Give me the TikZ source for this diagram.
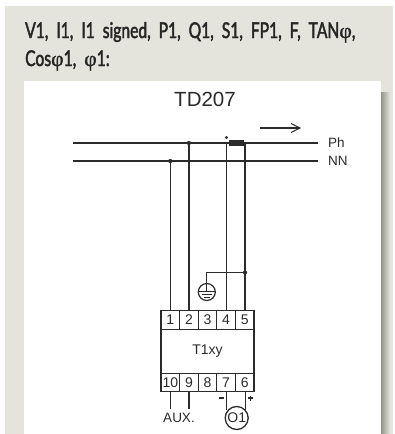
\documentclass[tikz,border=0pt]{standalone}
\usepackage{fontspec}
\setmainfont{Liberation Sans}
\newfontfamily\headfont[FakeStretch=0.72,FakeBold=2]{Lato}
\newfontfamily\greekfont[FakeBold=1.2]{Liberation Serif}
\usetikzlibrary{calc}
\definecolor{panelbg}{HTML}{E4E4DC}
\definecolor{ink}{HTML}{2B2B2B}
\tikzset{
  wire/.style={draw=ink,line width=1.3pt},
  bus/.style={draw=ink,line width=1.7pt},
  cell/.style={draw=ink,line width=1.2pt,minimum width=18.6pt,minimum height=18.6pt,inner sep=0pt,font=\fontsize{14}{15}\selectfont,text=ink},
  lbl/.style={inner sep=0pt,font=\fontsize{13.5}{15}\selectfont,text=ink},
  junction/.style={circle,fill=ink,inner sep=0pt,minimum size=4.2pt},
  head/.style={anchor=base west,inner sep=0pt,font=\headfont\fontsize{21.7}{24}\selectfont,text=black!85},
}
\begin{document}
\begin{tikzpicture}[x=1pt,y=-1pt]
\useasboundingbox (0,0) rectangle (394,434);
\fill[panelbg] (5,6) rectangle (393,434);
\shade[left color=black!35!panelbg,right color=panelbg] (381,92) rectangle (390,434);
\fill[white] (24,81) rectangle (381,434);
\node[head] (t1) at (25,38) {V1,\ \ I1,\ \ I1\ \ signed,\ \ P1,\ \ Q1,\ \ S1,\ \ FP1,\ \ F,\ \ TAN{\greekfont φ},};
\node[head] (t2) at (25,66) {Cos{\greekfont φ}1,\ \ {\greekfont φ}1:};
\node[inner sep=0pt,font=\fontsize{20.5}{22}\selectfont,text=ink] (title) at (205,99) {TD207};
% lines
\coordinate (phL) at (73,143); \coordinate (phR) at (318,143);
\coordinate (nnL) at (73,161); \coordinate (nnR) at (318,161);
\draw[bus] (phL) -- (phR);
\draw[wire] (nnL) -- (nnR);
\node[lbl,anchor=west] (ph) at (328,143) {Ph};
\node[lbl,anchor=west] (nn) at (328,161) {NN};
% direction arrow
\coordinate (arA) at (260,128); \coordinate (arB) at (300,128);
\draw[draw=ink,line width=1.1pt] (arA) -- (arB);
\draw[draw=ink,line width=1.1pt] (291,123.5) -- (arB) -- (291,132.5);
% terminals
\node[cell] (c1) at (170.3,320) {1};
\node[cell] (c2) at (188.9,320) {2};
\node[cell] (c3) at (207.5,320) {3};
\node[cell] (c4) at (226.1,320) {4};
\node[cell] (c5) at (244.7,320) {5};
\node[cell] (c10) at (170.3,382.5) {10};
\node[cell] (c9) at (188.9,382.5) {9};
\node[cell] (c8) at (207.5,382.5) {8};
\node[cell] (c7) at (226.1,382.5) {7};
\node[cell] (c6) at (244.7,382.5) {6};
\node[draw=ink,line width=1.2pt,minimum width=93pt,minimum height=43.9pt,inner sep=0pt,font=\fontsize{14}{15}\selectfont,text=ink] (body) at (207.5,351.2) {T1xy};
% junctions and wires
\node[junction] (j1) at (170.3,161) {};
\node[junction] (j2) at (188.9,143) {};
\node[junction] (j5) at (245,272.5) {};
\node[junction,minimum size=3.2pt] (pol) at (226.5,137.5) {};
\node[fill=ink,minimum width=15pt,minimum height=5.5pt,inner sep=0pt] (ct) at (236.5,143) {};
\draw[wire] (j1) -- (c1);
\draw[wire] (j2) -- (c2);
\draw[wire] (226.7,143) -- (c4.north -| 226.7,0);
\draw[wire] (245,143) -- (c5.north -| 245,0);
% earth
\node[circle,draw=ink,line width=1.2pt,minimum size=17pt,inner sep=0pt] (earth) at (206.8,292) {};
\draw[wire] (j5) -| (earth.north);
\draw[draw=ink,line width=1pt] (206.8,284) -- (206.8,291)
  (199,291) -- (214.6,291) (201.5,294) -- (212,294) (204,297) -- (209.5,297);
% aux
\coordinate (aux1) at (170.3,409); \coordinate (aux2) at (188.9,409);
\draw[wire] (c10) -- (aux1);
\draw[wire] (c9) -- (aux2);
\node[lbl] (aux) at (179,418) {AUX.};
% output
\node[circle,draw=ink,line width=1.3pt,minimum size=23pt,inner sep=0pt,font=\fontsize{14}{15}\selectfont,text=ink] (o1) at (236.7,418) {O1};
\draw[wire] (c7.south -| 226.7,0) -- (226.7,410);
\draw[wire] (c6.south -| 245.3,0) -- (245.3,410);
\draw[draw=ink,line width=1.3pt] (219,398) coordinate (mA) -- (224,398) coordinate (mB);
\draw[draw=ink,line width=1.3pt] (248,398) -- (253,398) (250.5,395.5) -- (250.5,400.5);
\end{tikzpicture}
\end{document}
